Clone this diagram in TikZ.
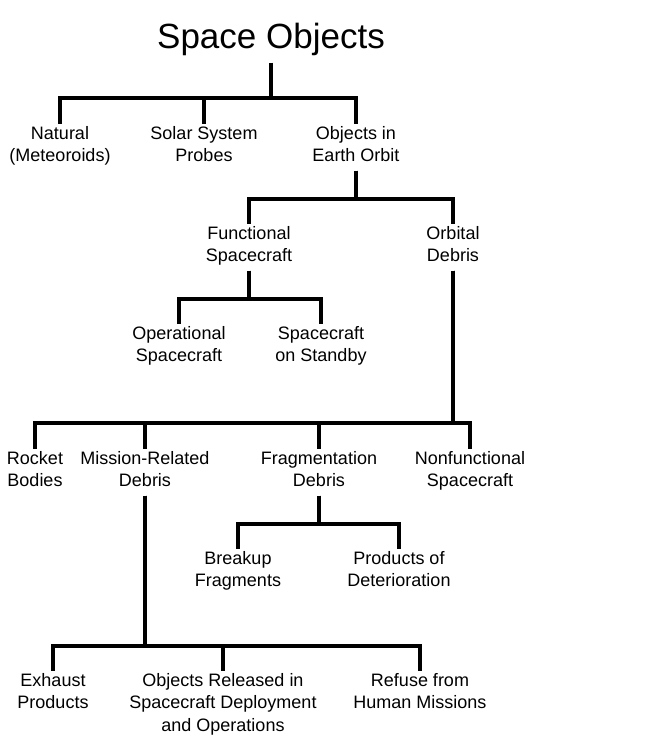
\documentclass[tikz,border=0pt]{standalone}
\usepackage{fontspec}
\setmainfont{Liberation Sans}
\begin{document}
\begin{tikzpicture}[x=1pt,y=-1pt,
    every node/.style={align=center, inner xsep=1pt, inner ysep=2pt,
      font=\fontsize{18}{22.5}\selectfont,
      execute at begin node=\strut, execute at end node=\strut},
    sub/.style={anchor=north},
    link/.style={line width=3.2pt}]
  \useasboundingbox (0,0) rectangle (650,737);
  \node[font=\fontsize{35}{42}\selectfont, anchor=base] (Space) at (271,48) {Space Objects};
  \node[sub] (Natural) at (60,124) {Natural\\(Meteoroids)};
  \node[sub] (Probes)  at (204,124) {Solar System\\Probes};
  \node[sub] (Orbit)   at (356,124) {Objects in\\Earth Orbit};
  \node[sub] (Functional) at (249,224) {Functional\\Spacecraft};
  \node[sub] (Debris)     at (453,224) {Orbital\\Debris};
  \node[sub] (Operational) at (179,324) {Operational\\Spacecraft};
  \node[sub] (Standby)     at (321,324) {Spacecraft\\on Standby};
  \node[sub] (Rocket)   at (35,449) {Rocket\\Bodies};
  \node[sub] (Mission)  at (145,449) {Mission-Related\\Debris};
  \node[sub] (Fragment) at (319,449) {Fragmentation\\Debris};
  \node[sub] (Nonfunc)  at (470,449) {Nonfunctional\\Spacecraft};
  \node[sub] (Breakup)  at (238,549) {Breakup\\Fragments};
  \node[sub] (Deterior) at (399,549) {Products of\\Deterioration};
  \node[sub] (Exhaust)  at (53,671) {Exhaust\\Products};
  \node[sub] (Released) at (223,671) {Objects Released in\\Spacecraft Deployment\\and Operations};
  \node[sub] (Refuse)   at (420,671) {Refuse from\\Human Missions};

  % fork levels
  \coordinate (BarSpace) at (0,98);
  \coordinate (BarOrbit) at (0,199);
  \coordinate (BarFunc)  at (0,299);
  \coordinate (BarDeb)   at (0,423);
  \coordinate (BarFrag)  at (0,524);
  \coordinate (BarMiss)  at (0,646);

  \foreach \kid in {Natural,Probes,Orbit}
    \draw[link] (Space.south) |- (BarSpace -| \kid.north) -- (\kid.north);
  \foreach \kid in {Functional,Debris}
    \draw[link] (Orbit.south) |- (BarOrbit -| \kid.north) -- (\kid.north);
  \foreach \kid in {Operational,Standby}
    \draw[link] (Functional.south) |- (BarFunc -| \kid.north) -- (\kid.north);
  \foreach \kid in {Rocket,Mission,Fragment,Nonfunc}
    \draw[link] (Debris.south) |- (BarDeb -| \kid.north) -- (\kid.north);
  \foreach \kid in {Breakup,Deterior}
    \draw[link] (Fragment.south) |- (BarFrag -| \kid.north) -- (\kid.north);
  \foreach \kid in {Exhaust,Released,Refuse}
    \draw[link] (Mission.south) |- (BarMiss -| \kid.north) -- (\kid.north);
\end{tikzpicture}
\end{document}
